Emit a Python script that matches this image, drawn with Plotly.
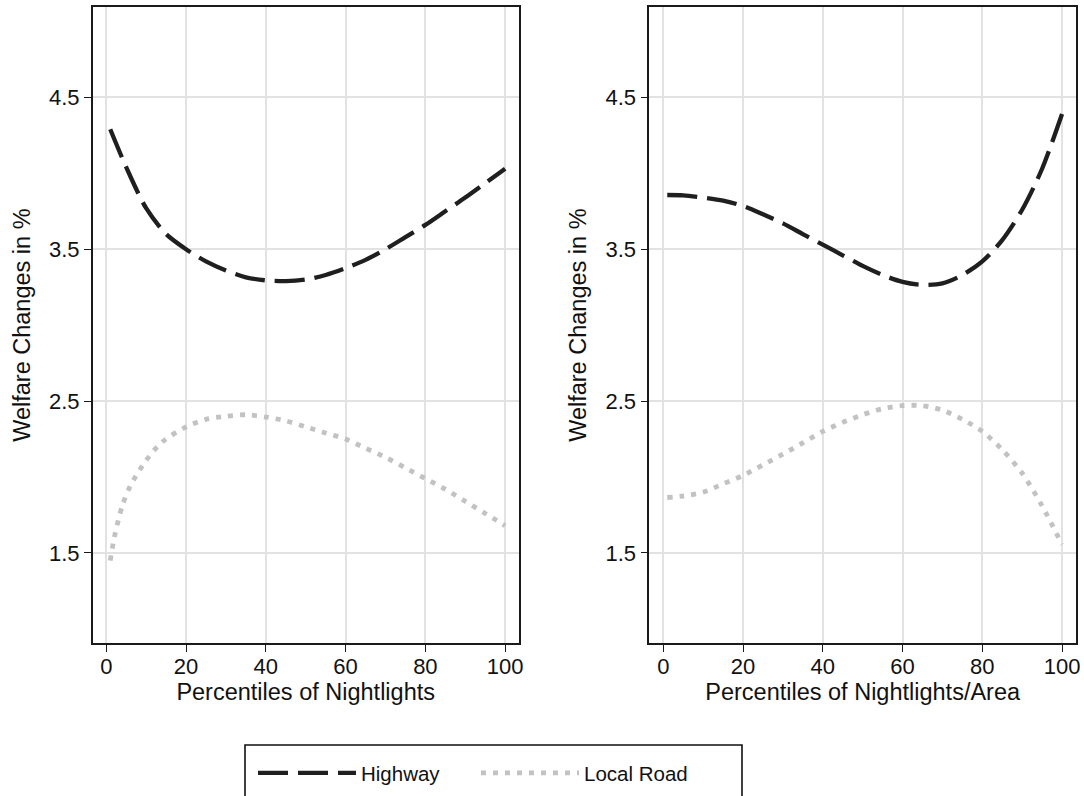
import plotly.graph_objects as go
from plotly.subplots import make_subplots

# ---- data ----
pct = [1, 5, 10, 15, 20, 25, 30, 35, 40, 45, 50, 55, 60, 65, 70, 75, 80, 85, 90, 95, 100]

left_highway = [4.29, 4.04, 3.77, 3.60, 3.50, 3.42, 3.36, 3.315, 3.295, 3.29, 3.30, 3.33,
                3.375, 3.43, 3.50, 3.58, 3.66, 3.75, 3.84, 3.935, 4.03]
left_pct_local = [1, 2, 4, 6, 10, 14, 20, 25, 30, 35, 40, 45, 50, 55, 60, 65, 70, 75, 80,
                  85, 90, 95, 100]
left_local = [1.45, 1.60, 1.81, 1.94, 2.11, 2.23, 2.33, 2.38, 2.40, 2.41, 2.395, 2.37, 2.33,
              2.29, 2.25, 2.19, 2.13, 2.06, 1.99, 1.92, 1.84, 1.76, 1.68]

right_highway = [3.857, 3.855, 3.84, 3.82, 3.785, 3.73, 3.67, 3.60, 3.53, 3.46, 3.39, 3.33,
                 3.285, 3.265, 3.275, 3.33, 3.42, 3.56, 3.76, 4.03, 4.39]
right_local = [1.865, 1.875, 1.90, 1.955, 2.01, 2.08, 2.15, 2.225, 2.30, 2.36, 2.41, 2.45,
               2.47, 2.47, 2.44, 2.38, 2.30, 2.18, 2.025, 1.81, 1.555]

x_ticks = [0, 20, 40, 60, 80, 100]
y_ticks = [1.5, 2.5, 3.5, 4.5]
x_titles = ["Percentiles of Nightlights", "Percentiles of Nightlights/Area"]
y_title = "Welfare Changes in %"
series_names = ["Highway", "Local Road"]

# ---- styles ----
W, H = 1084, 796
FONT = "Arial, Liberation Sans, Helvetica, sans-serif"
HW_COLOR = "#1f1f1f"
LR_COLOR = "#c2c2c2"
GRID = "#e2e2e2"
TICK_SIZE = 22
TITLE_SIZE = 23.5
LEG_SIZE = 20.5

fig = make_subplots(rows=1, cols=2)

hw_line = dict(color=HW_COLOR, width=4.3, dash="30px,10px", shape="spline", smoothing=0.8)
lr_line = dict(color=LR_COLOR, width=4.8, dash="5px,7px", shape="spline", smoothing=0.8)

fig.add_trace(go.Scatter(x=pct, y=left_highway, mode="lines", name=series_names[0],
                         line=hw_line, legendgroup="hw"), row=1, col=1)
fig.add_trace(go.Scatter(x=left_pct_local, y=left_local, mode="lines", name=series_names[1],
                         line=lr_line, legendgroup="lr"), row=1, col=1)
fig.add_trace(go.Scatter(x=pct, y=right_highway, mode="lines", name=series_names[0],
                         line=hw_line, legendgroup="hw", showlegend=False), row=1, col=2)
fig.add_trace(go.Scatter(x=pct, y=right_local, mode="lines", name=series_names[1],
                         line=lr_line, legendgroup="lr", showlegend=False), row=1, col=2)

y_dom = [1 - 643 / H, 1 - 7.3 / H]
x_doms = [[92.7 / W, 518.7 / W], [649.3 / W, 1076 / W]]
x_ranges = [[-3.4, 103.4], [-3.5, 103.5]]

for i in range(2):
    xa = "xaxis" if i == 0 else "xaxis2"
    ya = "yaxis" if i == 0 else "yaxis2"
    fig.layout[xa].update(
        domain=x_doms[i], range=x_ranges[i], tickvals=x_ticks,
        showgrid=True, gridcolor=GRID, gridwidth=1.5, zeroline=False,
        showline=True, linecolor="#1a1a1a", linewidth=1.6, mirror=True,
        ticks="outside", ticklen=7, tickwidth=1.3, tickcolor="#1a1a1a",
        ticklabelstandoff=-4,
        tickfont=dict(family=FONT, size=TICK_SIZE, color="#111"),
        title=dict(text=x_titles[i], font=dict(family=FONT, size=TITLE_SIZE, color="#111"),
                   standoff=4),
        automargin=False,
    )
    fig.layout[ya].update(
        domain=y_dom, range=[0.907, 5.093], tickvals=y_ticks, ticktext=[str(v) for v in y_ticks],
        showgrid=True, gridcolor=GRID, gridwidth=1.5, zeroline=False,
        showline=True, linecolor="#1a1a1a", linewidth=1.6, mirror=True,
        ticks="outside", ticklen=7, tickwidth=1.3, tickcolor="#1a1a1a",
        tickfont=dict(family=FONT, size=TICK_SIZE, color="#111"),
        title=dict(text=y_title, font=dict(family=FONT, size=TITLE_SIZE, color="#111"),
                   standoff=12),
        automargin=False,
    )

# legend frame
fig.add_shape(type="rect", xref="paper", yref="paper",
              x0=245 / W, x1=742 / W, y0=-0.1, y1=1 - 745 / H,
              line=dict(color="#111", width=1.6), fillcolor="rgba(0,0,0,0)", layer="above")

fig.update_layout(
    width=W, height=H,
    margin=dict(l=0, r=0, t=0, b=0),
    paper_bgcolor="white", plot_bgcolor="white",
    font=dict(family=FONT, size=TICK_SIZE, color="#111"),
    showlegend=True,
    legend=dict(orientation="h", x=253 / W, xanchor="left", y=1 - 773 / H, yanchor="middle",
                bgcolor="rgba(0,0,0,0)", borderwidth=0, itemwidth=98, entrywidth=110,
                font=dict(family=FONT, size=LEG_SIZE, color="#111"), tracegroupgap=0,
                itemclick=False),
)

fig.write_html("out.html", config={"displayModeBar": False},
               post_script="document.body.style.margin='0';document.body.style.overflow='hidden';")
